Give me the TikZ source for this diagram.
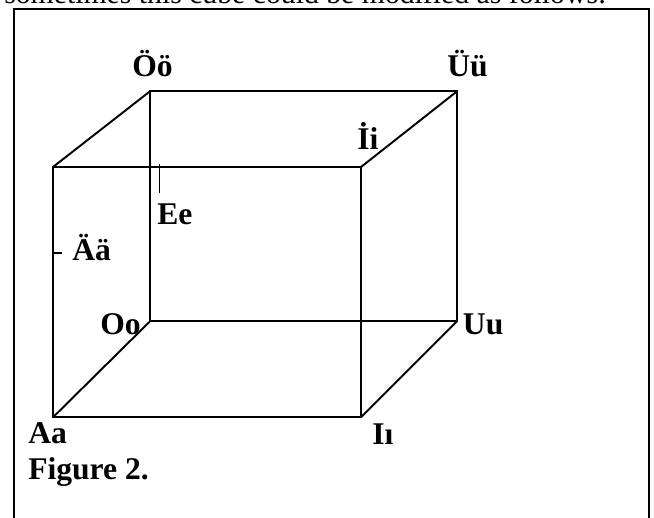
\documentclass[tikz,border=0pt]{standalone}
\usepackage{fontspec}
\setmainfont{Liberation Serif}
\tikzset{
  edge/.style={line width=1.45pt,black},
  framel/.style={line width=2.1pt,black},
  lab/.style={font=\bfseries\fontsize{23.7}{26}\selectfont,text=black,inner sep=0pt,anchor=base west},
}
\begin{document}
\begin{tikzpicture}[x=1pt,y=-1pt,xscale=0.75,yscale=0.75]
\useasboundingbox (0,0) rectangle (654,518);
\clip (0,0) rectangle (654,518);
\node[inner sep=0pt,anchor=base west,font=\fontsize{22.3}{24}\selectfont] (top) at (4,3) {sometimes this cube could be modified as follows:};
\draw[framel] (14,518) -- (14,9) -- (649,9) -- (649,518);
\coordinate (a) at (53,417.3);
\coordinate (i) at (361,417.3);
\coordinate (e) at (53,167);
\coordinate (j) at (361,167);
\coordinate (o) at (150,321.3);
\coordinate (u) at (457,321.3);
\coordinate (oo) at (150,91.3);
\coordinate (uu) at (457,91.3);
\draw[edge] (a) -- (i) -- (j) -- (e) -- cycle;
\draw[edge] (o) -- (u) -- (uu) -- (oo) -- cycle;
\draw[edge] (a) -- (o) (i) -- (u) (j) -- (uu) (e) -- (oo);
\coordinate (t1) at (159.5,164);
\coordinate (t2) at (159.5,192.5);
\coordinate (t3) at (52,252.7);
\coordinate (t4) at (61.5,252.7);
\draw[edge] (t1) -- (t2);
\draw[edge] (t3) -- (t4);
\node[lab] (nOo) at (132,76.5) {Öö};
\node[lab] (nUu) at (447,76.5) {Üü};
\node[lab] (nIi) at (357,149.5) {İi};
\node[lab] (nEe) at (157,224.5) {Ee};
\node[lab] (nAe) at (72,260.5) {Ää};
\node[lab] (nO) at (100,334.5) {Oo};
\node[lab] (nU) at (462.7,334) {Uu};
\node[lab] (nA) at (28,443.5) {Aa};
\node[lab] (nI) at (372,444) {Iı};
\node[lab] (fig) at (28,479.5) {Figure 2.};
\end{tikzpicture}
\end{document}
